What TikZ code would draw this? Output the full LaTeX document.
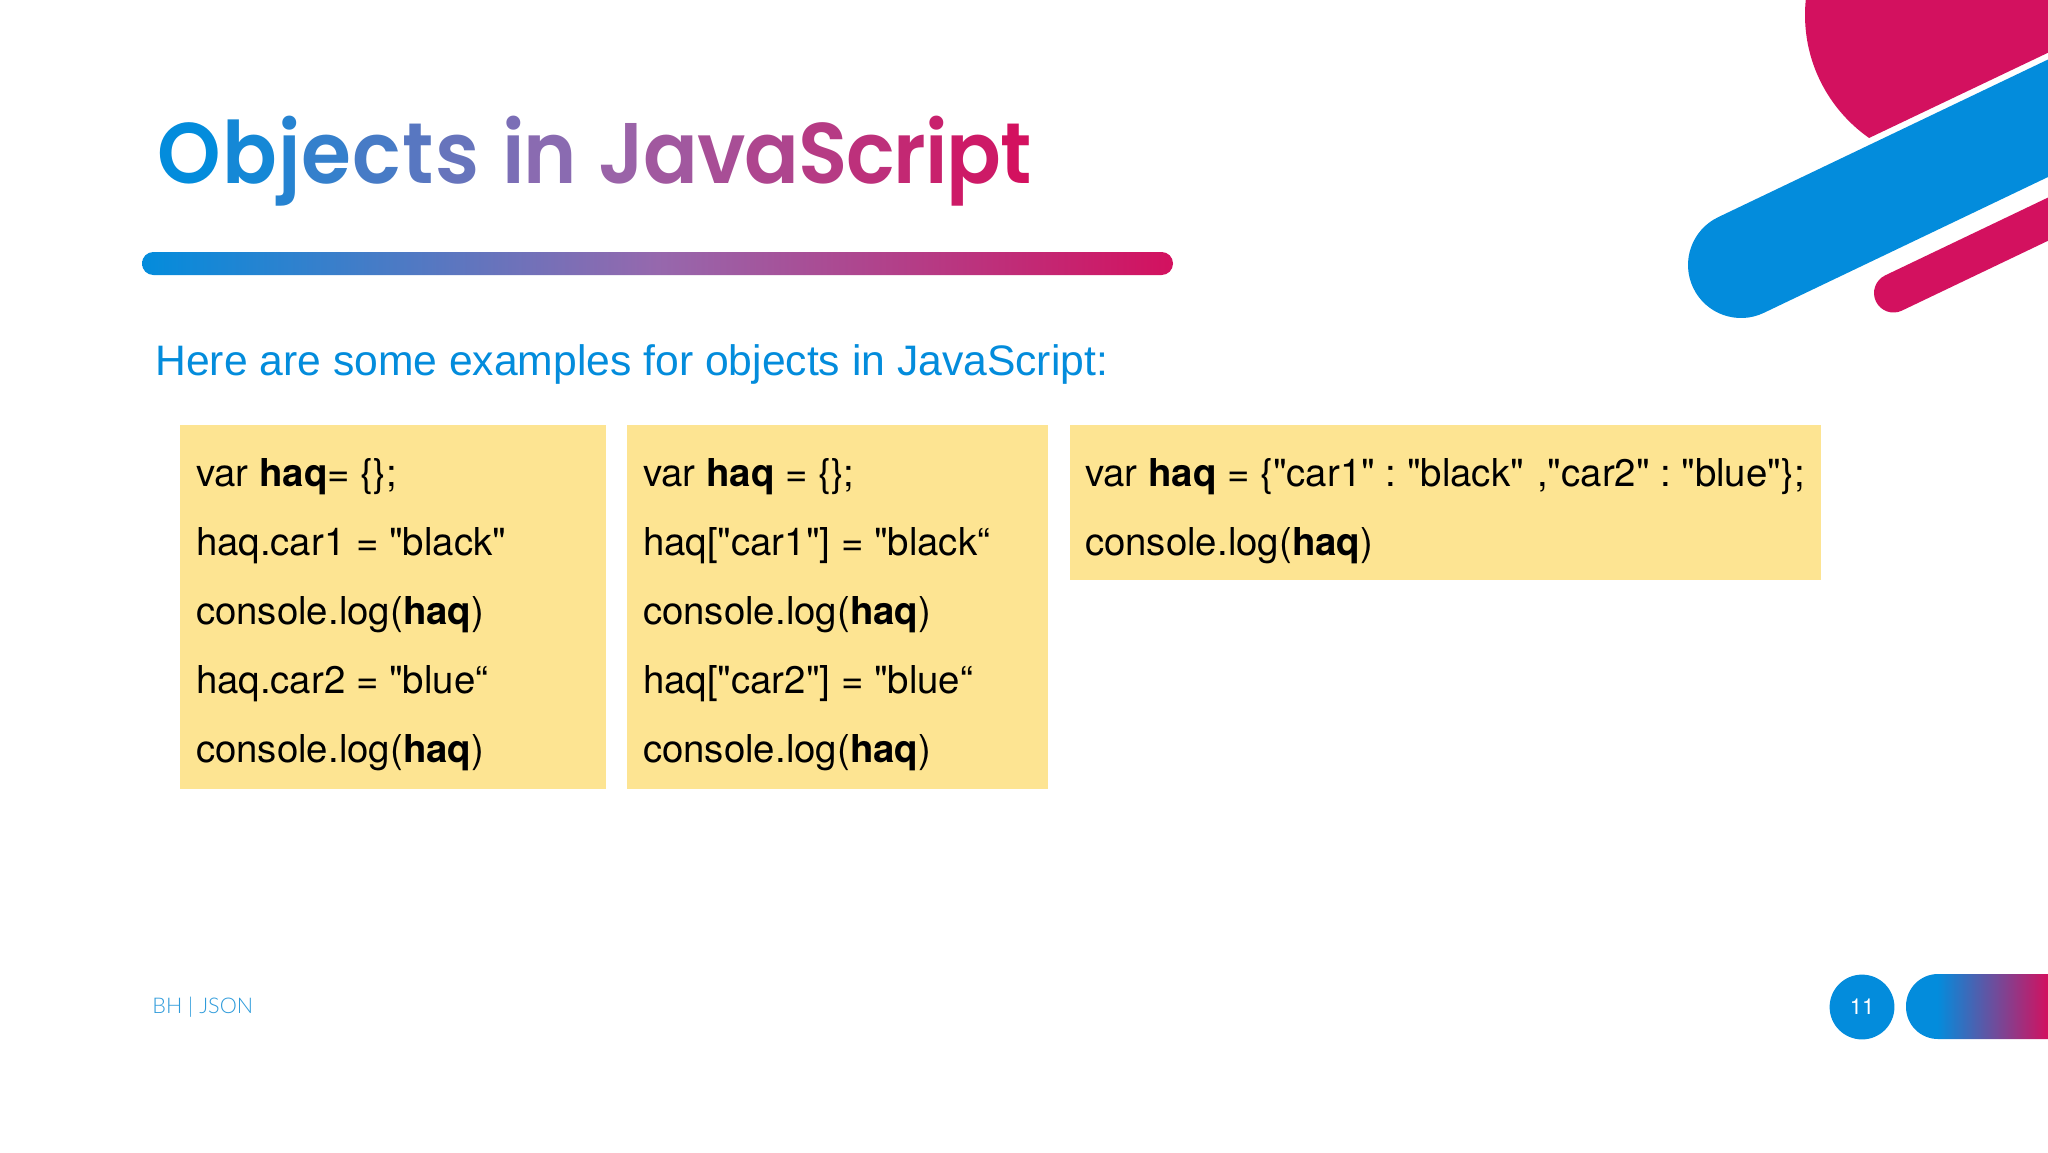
\documentclass[tikz,border=0pt]{standalone}
\usepackage{fontspec}
\setmainfont{Liberation Sans}
\newfontfamily\codefont{TeX Gyre Heros}
\newfontfamily\titlefont[FakeStretch=0.94]{Poppins SemiBold}
\newfontfamily\footfont{Lato Light}
\definecolor{jsblue}{HTML}{038CDC}
\definecolor{jspink}{HTML}{D3115F}
\definecolor{jsmid}{HTML}{9668AD}
\definecolor{boxfill}{HTML}{FDE492}
\definecolor{footblue}{HTML}{2E9BDB}
\pgfdeclarehorizontalshading{pagebar}{100bp}{
 color(0bp)=(jsblue); color(36bp)=(jsblue); color(75bp)=(jspink); color(100bp)=(jspink)}
\tikzset{
 codebox/.style={fill=boxfill,draw=none},
 codeline/.style={anchor=base west,inner sep=0pt,outer sep=0pt,text=black,font=\codefont\fontsize{19.2pt}{22pt}\selectfont},
 grad/.style={left color=jsblue,right color=jspink,middle color=jsmid,draw=none},
}
\newcommand{\titlekern}{0pt}
\newcommand{\gla}[2]{\textcolor{jsmid!#1!jsblue}{#2}\kern\titlekern}
\newcommand{\glb}[2]{\textcolor{jspink!#1!jsmid}{#2}\kern\titlekern}
\begin{document}
\begin{tikzpicture}[x=0.5pt,y=-0.5pt]
\useasboundingbox (0,0) rectangle (2048,1152);
\fill[white] (0,0) rectangle (2048,1152);
% decoration
\begin{scope}
\clip (0,0) rectangle (2048,1152);
\begin{scope}
\clip (1790,-5) -- (2060,-5) -- (2060,47) -- (1869,138) -- (1790,138) -- cycle;
\fill[jspink] (1955,15) circle[radius=150];
\end{scope}
\draw[jsblue,line width=53pt,line cap=round] (1741,265) -- (2100,93.4);
\draw[jspink,line width=19.5pt,line cap=round] (1893.5,293) -- (2100,194.3);
\shade[shading=pagebar] (2048,974) {[rounded corners=16pt] -- (1906,974) -- (1906,1039)} -- (2048,1039) -- cycle;
\end{scope}
% title
\node[anchor=base west,inner sep=0pt,font=\titlefont\fontsize{43pt}{48pt}\selectfont] (title) at (157,183)
 {\renewcommand{\titlekern}{0.6pt}\gla{0}{O}\gla{12}{b}\gla{24}{j}\gla{34}{e}\gla{46}{c}\gla{58}{t}\gla{68}{s}\kern1.4pt\ %
  \renewcommand{\titlekern}{-0.8pt}\gla{82}{i}\gla{92}{n}\kern2.1pt\ %
  \renewcommand{\titlekern}{-0.58pt}\glb{6}{J}\glb{18}{a}\glb{30}{v}\glb{40}{a}\glb{52}{S}\glb{64}{c}\glb{74}{r}\glb{82}{i}\glb{90}{p}\glb{100}{t}};
\shade[grad,rounded corners=5.7pt] (142,252) rectangle (1173,275);
\node[anchor=base west,inner sep=0pt,text=jsblue,font=\fontsize{21.32pt}{24pt}\selectfont] (sub) at (155,375) {Here are some examples for objects in JavaScript:};
% boxes
\fill[codebox] (180,425) rectangle (606,789);
\fill[codebox] (627,425) rectangle (1048,789);
\fill[codebox] (1070,425) rectangle (1821,580);
\node[codeline] (a1) at (196,486) {var \textbf{haq}= \{\};};
\node[codeline] (a2) at (196,555) {haq.car1 = "black"};
\node[codeline] (a3) at (196,624) {console.log(\textbf{haq})};
\node[codeline] (a4) at (196,693) {haq.car2 = "blue“};
\node[codeline] (a5) at (196,762) {console.log(\textbf{haq})};
\node[codeline] (b1) at (643,486) {var \textbf{haq} = \{\};};
\node[codeline] (b2) at (643,555) {haq["car1"] = "black“};
\node[codeline] (b3) at (643,624) {console.log(\textbf{haq})};
\node[codeline] (b4) at (643,693) {haq["car2"] = "blue“};
\node[codeline] (b5) at (643,762) {console.log(\textbf{haq})};
\node[codeline] (c1) at (1085,486) {var \textbf{haq} = \{"car1" : \kern-1.8pt"black" \kern1.2pt,"car2" : \kern-2pt"blue"\};};
\node[codeline] (c2) at (1085,555) {console.log(\textbf{haq})};
% footer
\node[anchor=base west,inner sep=0pt,text=footblue,font=\footfont\fontsize{10.8pt}{14pt}\selectfont] (foot) at (152,1013) {BH | JSON};
\node[circle,fill=jsblue,minimum size=32.4pt,inner sep=0pt,text=white,font=\codefont\fontsize{11pt}{13pt}\selectfont] (page) at (1862,1007) {\raisebox{-0.6pt}{11}};
\end{tikzpicture}
\end{document}
